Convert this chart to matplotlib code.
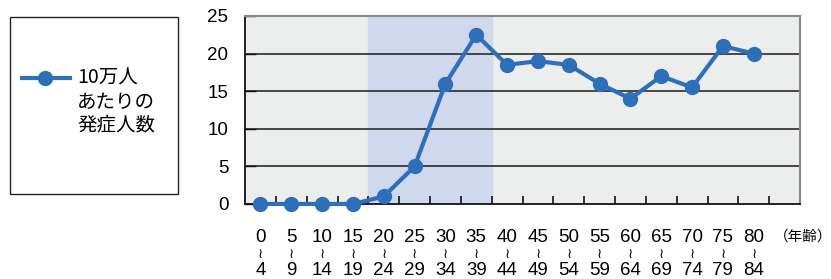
import matplotlib
matplotlib.use("Agg")
import matplotlib.pyplot as plt
from matplotlib.lines import Line2D
from matplotlib.patches import Rectangle

plt.rcParams['font.family'] = ['Noto Sans CJK JP', 'DejaVu Sans']

age_start = ['0', '5', '10', '15', '20', '25', '30', '35', '40', '45', '50', '55', '60', '65', '70', '75', '80']
age_end = ['4', '9', '14', '19', '24', '29', '34', '39', '44', '49', '54', '59', '64', '69', '74', '79', '84']
incidence = [0, 0, 0, 0, 1, 5, 16, 22.5, 18.5, 19, 18.5, 16, 14, 17, 15.5, 21, 20]
highlight = (4, 7)  # index range 20-24 .. 35-39
yticks = [0, 5, 10, 15, 20, 25]
legend_label = '10万人\nあたりの\n発症人数'
unit_label = '（年齢）'

NUMFONT = ['Liberation Sans', 'DejaVu Sans']

W, H = 831, 279
fig = plt.figure(figsize=(W / 100, H / 100), dpi=100)
ax = fig.add_axes([245 / W, 1 - 204 / H, (800 - 245) / W, (204 - 16) / H])

n = len(incidence)
x = list(range(n))
ax.set_xlim(-0.5, n + 0.5)
ax.set_ylim(0, 25)
ax.set_facecolor('#eceeed')

ax.axvspan(highlight[0] - 0.5, highlight[1] + 0.5, color='#d0d8ee', zorder=0)
for v in yticks[1:-1]:
    ax.axhline(v, color='#2a2a2a', lw=1.2, zorder=1)

ax.plot(x, incidence, color='#2e6fba', lw=3, marker='o', ms=10, zorder=3, clip_on=False)

for s in ['left', 'bottom']:
    ax.spines[s].set_color('#111111')
    ax.spines[s].set_linewidth(1.3)
for s in ['top', 'right']:
    ax.spines[s].set_color('#8a8a8a')
    ax.spines[s].set_linewidth(1.5)

ax.set_yticks(yticks)
ax.set_yticklabels([str(v) for v in yticks], fontsize=13.5, family=NUMFONT)
ax.tick_params(axis='y', direction='in', length=8, width=1, color='#111111', pad=12)
ax.set_xticks([i + 0.5 for i in range(n)])
ax.set_xticklabels([])
ax.tick_params(axis='x', direction='in', length=6, width=1.2, color='#111111')

trans = ax.get_xaxis_transform()
for i in range(n):
    ax.text(i, -0.18, age_start[i], transform=trans, ha='center', va='center',
            fontsize=13.5, family=NUMFONT)
    ax.text(i, -0.265, '≀', transform=trans, ha='center', va='center',
            fontsize=10, family=['DejaVu Sans'])
    ax.text(i, -0.355, age_end[i], transform=trans, ha='center', va='center',
            fontsize=13.5, family=NUMFONT)
fig.text(803 / W, 1 - 237 / H, unit_label, ha='center', va='center', fontsize=10.5)

# legend box
fig.patches.append(Rectangle((10 / W, 1 - 194 / H), (178 - 10) / W, (194 - 17) / H,
                             transform=fig.transFigure, fill=False, edgecolor='#222222', lw=1))
fig.add_artist(Line2D([22 / W, 70 / W], [1 - 78 / H, 1 - 78 / H], color='#2e6fba', lw=3,
                      transform=fig.transFigure))
fig.add_artist(Line2D([45 / W], [1 - 78 / H], color='#2e6fba', marker='o', ms=10,
                      transform=fig.transFigure))
fig.text(77 / W, 1 - 102 / H, legend_label, ha='left', va='center', fontsize=14,
         linespacing=1.15)

fig.savefig('out.png', dpi=100)
